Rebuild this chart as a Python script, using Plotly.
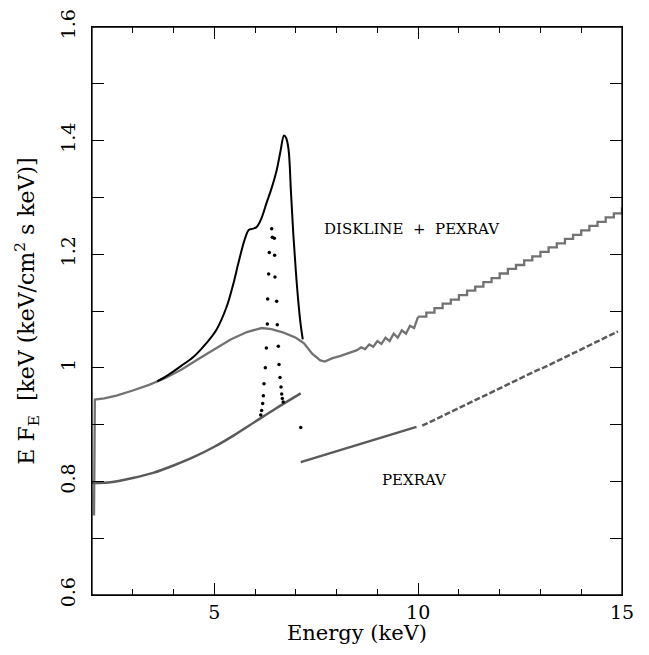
import plotly.graph_objects as go

# ---- data ----
# DISKLINE + PEXRAV continuum (gray)
upper_x = [2.05, 2.07, 2.3, 2.6, 3.0, 3.4, 3.8, 4.2, 4.6, 5.0, 5.4, 5.8, 6.16, 6.4, 6.7,
           7.0, 7.2, 7.4, 7.6, 7.71, 7.9, 8.1, 8.3, 8.5, 8.6, 8.7, 8.8, 8.9, 9.0, 9.1,
           9.2, 9.3, 9.4, 9.5, 9.6, 9.7, 9.8, 9.9, 10.0]
upper_y = [0.74, 0.944, 0.946, 0.951, 0.960, 0.970, 0.982, 0.997, 1.015, 1.033, 1.050, 1.063,
           1.070, 1.068, 1.062, 1.053, 1.043, 1.025, 1.013, 1.011, 1.017, 1.021, 1.026, 1.031,
           1.036, 1.033, 1.041, 1.037, 1.047, 1.042, 1.053, 1.047, 1.060, 1.053, 1.066, 1.060,
           1.074, 1.070, 1.090]
# stepped part, 0.2 keV bins
upper_bin_x = [10.0, 10.2, 10.4, 10.6, 10.8, 11.0, 11.2, 11.4, 11.6, 11.8, 12.0, 12.2, 12.4,
               12.6, 12.8, 13.0, 13.2, 13.4, 13.6, 13.8, 14.0, 14.2, 14.4, 14.6, 14.8, 15.0]
upper_bin_y = [1.090, 1.097, 1.105, 1.113, 1.120, 1.128, 1.136, 1.143, 1.151, 1.158, 1.166,
               1.174, 1.181, 1.189, 1.196, 1.204, 1.212, 1.219, 1.227, 1.234, 1.242, 1.250,
               1.257, 1.265, 1.272, 1.283]

# DISKLINE line profile (black)
line_x = [3.6, 3.9, 4.2, 4.5, 4.8, 5.06, 5.3, 5.46, 5.6, 5.75, 5.85, 5.95, 6.04, 6.15, 6.28,
          6.4, 6.53, 6.62, 6.71, 6.76, 6.82, 6.88, 6.94, 7.0, 7.06, 7.12, 7.17]
line_y = [0.976, 0.989, 1.004, 1.020, 1.043, 1.068, 1.107, 1.146, 1.187, 1.227, 1.243, 1.245,
          1.248, 1.262, 1.290, 1.315, 1.348, 1.380, 1.409, 1.405, 1.385, 1.310, 1.233, 1.170,
          1.117, 1.075, 1.050]

# dotted columns
dots_x = [6.407, 6.423, 6.349, 6.333, 6.309, 6.300, 6.276, 6.251, 6.219, 6.203, 6.187, 6.160,
          6.140, 6.472, 6.480, 6.488, 6.530, 6.545, 6.570, 6.587, 6.611, 6.636, 6.653, 6.668,
          6.690, 7.12]
dots_y = [1.245, 1.230, 1.203, 1.165, 1.121, 1.077, 1.035, 1.000, 0.972, 0.951, 0.937, 0.925,
          0.917, 1.228, 1.198, 1.160, 1.117, 1.076, 1.038, 1.006, 0.983, 0.966, 0.954, 0.946,
          0.940, 0.895]

# PEXRAV (gray, lower)
pex1_x = [2.0, 2.5, 3.0, 3.5, 4.0, 4.5, 5.0, 5.5, 6.0, 6.5, 7.12]
pex1_y = [0.797, 0.799, 0.806, 0.815, 0.828, 0.843, 0.861, 0.882, 0.905, 0.928, 0.955]
pex2_x = [7.12, 8.0, 8.41, 9.0, 9.96]
pex2_y = [0.834, 0.853, 0.862, 0.875, 0.896]
pex3_x = [10.1, 10.3, 10.5, 10.7, 10.9, 11.1, 11.3, 11.5, 11.7, 11.9, 12.1, 12.3, 12.5, 12.7,
          12.9, 13.1, 13.3, 13.5, 13.7, 13.9, 14.1, 14.3, 14.5, 14.7, 14.9]
pex3_y = [0.898, 0.905, 0.912, 0.919, 0.926, 0.932, 0.939, 0.946, 0.953, 0.960, 0.967, 0.974,
          0.981, 0.988, 0.995, 1.001, 1.008, 1.015, 1.022, 1.029, 1.036, 1.043, 1.050, 1.057,
          1.064]

labels = ["DISKLINE  +  PEXRAV", "PEXRAV"]
label_x = [9.85, 9.92]
label_y = [1.245, 0.802]

x_ticks = [5, 10, 15]
y_ticks = [0.6, 0.8, 1.0, 1.2, 1.4, 1.6]
y_tick_text = ["0.6", "0.8", "1", "1.2", "1.4", "1.6"]

GRAY_UP = "#727272"
GRAY_LO = "#5a5a5a"

fig = go.Figure()
fig.add_trace(go.Scatter(x=upper_x, y=upper_y, mode="lines",
                         line=dict(color=GRAY_UP, width=2.3)))
fig.add_trace(go.Scatter(x=upper_bin_x, y=upper_bin_y, mode="lines", line_shape="hv",
                         line=dict(color=GRAY_UP, width=2.3)))
fig.add_trace(go.Scatter(x=pex1_x, y=pex1_y, mode="lines", line_shape="spline",
                         line=dict(color=GRAY_LO, width=2.5)))
fig.add_trace(go.Scatter(x=pex2_x, y=pex2_y, mode="lines",
                         line=dict(color=GRAY_LO, width=2.5)))
fig.add_trace(go.Scatter(x=pex3_x, y=pex3_y, mode="lines",
                         line=dict(color=GRAY_LO, width=2.5, dash="6px,2.3px")))
fig.add_trace(go.Scatter(x=line_x, y=line_y, mode="lines", line_shape="spline",
                         line=dict(color="black", width=2)))
fig.add_trace(go.Scatter(x=dots_x, y=dots_y, mode="markers",
                         marker=dict(color="black", size=3.5)))

for t, xx, yy in zip(labels, label_x, label_y):
    fig.add_annotation(x=xx, y=yy, text=t, showarrow=False,
                       font=dict(family="DejaVu Serif", size=15, color="black"))

axis_common = dict(showgrid=False, zeroline=False, showline=True, linecolor="black",
                   linewidth=1.3, mirror="ticks", ticks="inside", tickcolor="black",
                   tickwidth=1.3, ticklen=12, automargin=False, ticklabeloverflow="allow")

fig.update_xaxes(range=[2, 15], tickvals=x_ticks, ticktext=[str(v) for v in x_ticks],
                 minor=dict(dtick=1, tick0=0, ticks="inside", ticklen=6, tickcolor="black",
                            tickwidth=1.3),
                 tickfont=dict(family="DejaVu Serif", size=19, color="black"),
                 title=dict(text="Energy (keV)", standoff=6,
                            font=dict(family="DejaVu Serif", size=21, color="black")),
                 **axis_common)
fig.update_yaxes(range=[0.6, 1.6], tickvals=y_ticks, ticktext=y_tick_text, tickangle=-90,
                 minor=dict(dtick=0.1, tick0=0.6, ticks="inside", ticklen=12,
                            tickcolor="black", tickwidth=1.3),
                 tickfont=dict(family="DejaVu Serif", size=19, color="black"),
                 ticklabelstandoff=8,
                 title=dict(text="E F<sub>E</sub>  [keV (keV/cm<sup>2</sup> s keV)]", standoff=16,
                            font=dict(family="DejaVu Serif", size=22, color="black")),
                 **axis_common)

# frame drawn as a shape so the upper edge is always present
fig.add_shape(type="rect", xref="paper", yref="paper", x0=0, x1=1, y0=0, y1=1,
              line=dict(color="black", width=1.3), layer="above")

# page body adds an 8px margin around the figure
fig.update_layout(width=633, height=637, showlegend=False,
                  paper_bgcolor="white", plot_bgcolor="white",
                  margin=dict(l=84, r=19, t=19, b=50))

fig.write_html("out.html", config={"displayModeBar": False})
